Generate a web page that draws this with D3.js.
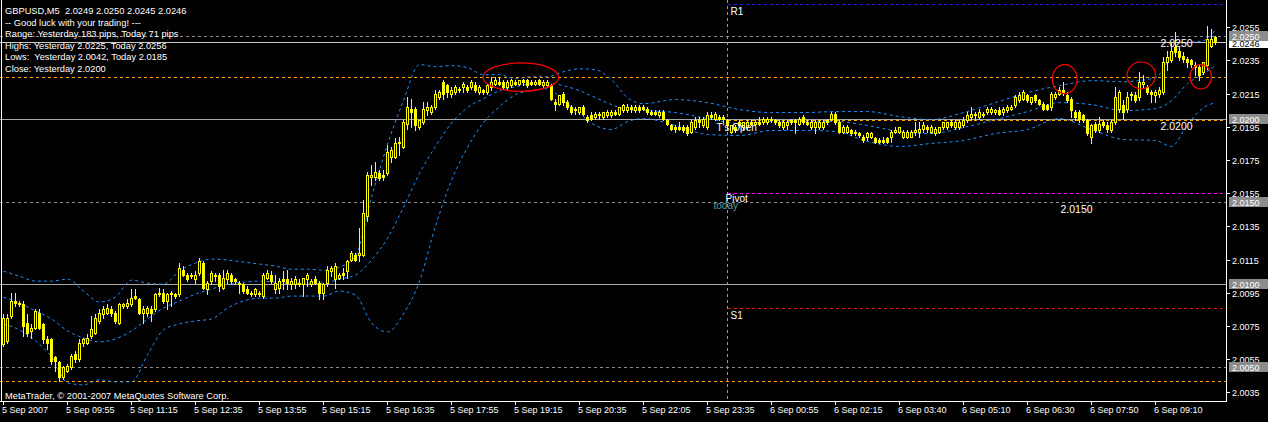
<!DOCTYPE html>
<html><head><meta charset="utf-8">
<script src="https://cdn.jsdelivr.net/npm/d3@7"></script>
<style>html,body{margin:0;padding:0;background:#000;overflow:hidden}</style>
</head><body><svg id="c" width="1268" height="422"></svg>
<script>
// ---------------- data ----------------
const titleLine = "GBPUSD,M5  2.0249 2.0250 2.0245 2.0246";
const infoLines = ["-- Good luck with your trading! ---","Range: Yesterday 183 pips, Today 71 pips","Highs: Yesterday 2.0225, Today 2.0256","Lows:  Yesterday 2.0042, Today 2.0185","Close: Yesterday 2.0200"];
const copyright = "MetaTrader, \u00A9 2001-2007 MetaQuotes Software Corp.";
const timeLabels = ["5 Sep 2007","5 Sep 09:55","5 Sep 11:15","5 Sep 12:35","5 Sep 13:55","5 Sep 15:15","5 Sep 16:35","5 Sep 17:55","5 Sep 19:15","5 Sep 20:35","5 Sep 22:05","5 Sep 23:35","6 Sep 00:55","6 Sep 02:15","6 Sep 03:40","6 Sep 05:10","6 Sep 06:30","6 Sep 07:50","6 Sep 09:10"];
const timeTickBars = [0,16,32,48,64,80,96,112,128,144,160,176,192,208,224,240,256,272,288];
const priceTicks = [2.0255,2.0235,2.0215,2.0195,2.0175,2.0155,2.0135,2.0115,2.0095,2.0075,2.0055,2.0035];

const opens = [
2.0064,2.0066,2.0081,2.0090,2.0089,2.0088,2.0077,2.0072,2.0074,2.0083,
2.0076,2.0067,2.0067,2.0056,2.0053,2.0044,2.0048,2.0050,2.0058,2.0055,
2.0065,2.0065,2.0069,2.0071,2.0078,2.0082,2.0083,2.0085,2.0083,2.0077,
2.0087,2.0087,2.0088,2.0093,2.0091,2.0083,2.0083,2.0085,2.0085,2.0094,
2.0095,2.0090,2.0094,2.0094,2.0094,2.0109,2.0106,2.0105,2.0103,2.0107,
2.0113,2.0097,2.0102,2.0106,2.0106,2.0098,2.0103,2.0106,2.0103,2.0101,
2.0100,2.0097,2.0095,2.0094,2.0095,2.0093,2.0104,2.0106,2.0097,2.0098,
2.0103,2.0103,2.0100,2.0100,2.0101,2.0100,2.0103,2.0100,2.0103,2.0101,
2.0095,2.0101,2.0108,2.0103,2.0104,2.0107,2.0108,2.0115,2.0118,2.0118,
2.0118,2.0141,2.0165,2.0165,2.0167,2.0166,2.0167,2.0177,2.0177,2.0186,
2.0183,2.0197,2.0206,2.0206,2.0195,2.0198,2.0205,2.0204,2.0207,2.0213,
2.0222,2.0220,2.0215,2.0216,2.0217,2.0219,2.0219,2.0219,2.0220,2.0216,
2.0217,2.0216,2.0219,2.0221,2.0222,2.0222,2.0219,2.0220,2.0222,2.0221,
2.0223,2.0223,2.0222,2.0221,2.0223,2.0220,2.0220,2.0220,2.0210,2.0209,
2.0215,2.0210,2.0207,2.0206,2.0204,2.0207,2.0201,2.0202,2.0201,2.0202,
2.0201,2.0202,2.0202,2.0204,2.0203,2.0205,2.0205,2.0207,2.0205,2.0207,
2.0207,2.0206,2.0204,2.0204,2.0202,2.0204,2.0199,2.0196,2.0195,2.0195,
2.0195,2.0195,2.0192,2.0195,2.0199,2.0196,2.0195,2.0202,2.0200,2.0201,
2.0201,2.0199,2.0192,2.0195,2.0198,2.0195,2.0195,2.0198,2.0197,2.0198,
2.0198,2.0198,2.0200,2.0199,2.0198,2.0195,2.0196,2.0199,2.0199,2.0197,
2.0201,2.0198,2.0195,2.0195,2.0195,2.0195,2.0199,2.0200,2.0203,2.0198,
2.0192,2.0192,2.0193,2.0192,2.0191,2.0189,2.0189,2.0189,2.0188,2.0187,
2.0187,2.0188,2.0189,2.0192,2.0192,2.0189,2.0189,2.0189,2.0192,2.0192,
2.0194,2.0195,2.0192,2.0191,2.0192,2.0195,2.0195,2.0198,2.0195,2.0195,
2.0196,2.0199,2.0201,2.0203,2.0201,2.0203,2.0204,2.0204,2.0204,2.0205,
2.0204,2.0205,2.0206,2.0208,2.0211,2.0212,2.0214,2.0210,2.0214,2.0211,
2.0209,2.0208,2.0207,2.0213,2.0215,2.0217,2.0214,2.0212,2.0204,2.0204,
2.0202,2.0199,2.0189,2.0197,2.0193,2.0198,2.0196,2.0193,2.0198,2.0206,
2.0208,2.0206,2.0214,2.0214,2.0213,2.0221,2.0219,2.0216,2.0214,2.0215,
2.0216,2.0234,2.0235,2.0243,2.0241,2.0238,2.0236,2.0235,2.0232,2.0231,
2.0228,2.0232,2.0244,2.0249];
const highs = [
2.0082,2.0082,2.0095,2.0095,2.0090,2.0090,2.0082,2.0076,2.0085,2.0085,
2.0077,2.0069,2.0068,2.0057,2.0054,2.0051,2.0052,2.0058,2.0060,2.0067,
2.0068,2.0070,2.0081,2.0082,2.0085,2.0087,2.0088,2.0087,2.0084,2.0089,
2.0089,2.0091,2.0097,2.0097,2.0092,2.0087,2.0087,2.0087,2.0095,2.0098,
2.0097,2.0095,2.0096,2.0095,2.0113,2.0111,2.0107,2.0107,2.0108,2.0116,
2.0114,2.0102,2.0108,2.0107,2.0107,2.0109,2.0109,2.0107,2.0104,2.0102,
2.0101,2.0099,2.0096,2.0098,2.0096,2.0107,2.0109,2.0108,2.0106,2.0104,
2.0108,2.0109,2.0104,2.0105,2.0103,2.0104,2.0107,2.0103,2.0105,2.0102,
2.0101,2.0111,2.0111,2.0113,2.0107,2.0110,2.0115,2.0120,2.0119,2.0134,
2.0151,2.0168,2.0172,2.0174,2.0169,2.0169,2.0184,2.0183,2.0188,2.0189,
2.0199,2.0213,2.0212,2.0207,2.0199,2.0210,2.0210,2.0208,2.0217,2.0217,
2.0223,2.0221,2.0219,2.0220,2.0219,2.0222,2.0220,2.0223,2.0222,2.0220,
2.0218,2.0221,2.0225,2.0225,2.0225,2.0223,2.0223,2.0224,2.0223,2.0223,
2.0224,2.0224,2.0223,2.0223,2.0224,2.0223,2.0223,2.0221,2.0212,2.0214,
2.0216,2.0211,2.0208,2.0207,2.0207,2.0208,2.0202,2.0204,2.0204,2.0204,
2.0204,2.0205,2.0205,2.0205,2.0207,2.0209,2.0209,2.0208,2.0208,2.0208,
2.0208,2.0207,2.0205,2.0205,2.0205,2.0205,2.0200,2.0197,2.0196,2.0198,
2.0196,2.0196,2.0199,2.0201,2.0201,2.0201,2.0204,2.0204,2.0204,2.0202,
2.0202,2.0200,2.0196,2.0196,2.0199,2.0198,2.0199,2.0199,2.0199,2.0201,
2.0201,2.0201,2.0201,2.0200,2.0199,2.0199,2.0199,2.0200,2.0200,2.0201,
2.0202,2.0199,2.0199,2.0199,2.0199,2.0199,2.0200,2.0204,2.0204,2.0199,
2.0196,2.0196,2.0194,2.0193,2.0192,2.0190,2.0192,2.0192,2.0189,2.0188,
2.0189,2.0189,2.0193,2.0195,2.0195,2.0193,2.0193,2.0193,2.0198,2.0198,
2.0198,2.0196,2.0196,2.0195,2.0195,2.0198,2.0198,2.0199,2.0199,2.0199,
2.0201,2.0204,2.0207,2.0204,2.0206,2.0204,2.0207,2.0207,2.0206,2.0207,
2.0207,2.0208,2.0208,2.0214,2.0216,2.0217,2.0215,2.0213,2.0215,2.0212,
2.0210,2.0209,2.0216,2.0216,2.0219,2.0222,2.0216,2.0213,2.0205,2.0205,
2.0203,2.0200,2.0197,2.0198,2.0201,2.0199,2.0198,2.0199,2.0219,2.0217,
2.0211,2.0216,2.0216,2.0216,2.0228,2.0226,2.0220,2.0217,2.0217,2.0219,
2.0237,2.0241,2.0246,2.0252,2.0243,2.0240,2.0237,2.0236,2.0234,2.0232,
2.0234,2.0256,2.0254,2.0250];
const lows = [
2.0063,2.0065,2.0080,2.0087,2.0087,2.0069,2.0069,2.0068,2.0073,2.0073,
2.0065,2.0061,2.0052,2.0048,2.0042,2.0043,2.0047,2.0049,2.0053,2.0054,
2.0063,2.0064,2.0068,2.0070,2.0077,2.0080,2.0082,2.0081,2.0077,2.0076,
2.0086,2.0086,2.0087,2.0091,2.0082,2.0077,2.0081,2.0078,2.0084,2.0093,
2.0089,2.0085,2.0087,2.0092,2.0093,2.0105,2.0102,2.0104,2.0101,2.0106,
2.0097,2.0094,2.0100,2.0102,2.0096,2.0097,2.0101,2.0101,2.0100,2.0095,
2.0095,2.0094,2.0093,2.0093,2.0093,2.0092,2.0103,2.0101,2.0095,2.0095,
2.0097,2.0097,2.0097,2.0098,2.0099,2.0093,2.0099,2.0099,2.0100,2.0091,
2.0091,2.0099,2.0105,2.0098,2.0103,2.0103,2.0104,2.0114,2.0114,2.0114,
2.0117,2.0138,2.0160,2.0163,2.0163,2.0163,2.0166,2.0174,2.0176,2.0178,
2.0182,2.0194,2.0195,2.0193,2.0194,2.0197,2.0202,2.0203,2.0206,2.0212,
2.0212,2.0213,2.0213,2.0215,2.0216,2.0216,2.0216,2.0218,2.0216,2.0215,
2.0215,2.0215,2.0217,2.0220,2.0220,2.0218,2.0218,2.0219,2.0220,2.0220,
2.0220,2.0219,2.0220,2.0220,2.0220,2.0219,2.0219,2.0211,2.0205,2.0208,
2.0208,2.0206,2.0203,2.0203,2.0203,2.0202,2.0198,2.0199,2.0200,2.0200,
2.0200,2.0201,2.0201,2.0202,2.0202,2.0204,2.0204,2.0204,2.0204,2.0204,
2.0205,2.0203,2.0202,2.0202,2.0201,2.0199,2.0196,2.0193,2.0192,2.0193,
2.0192,2.0190,2.0191,2.0194,2.0195,2.0195,2.0194,2.0200,2.0199,2.0199,
2.0198,2.0194,2.0191,2.0192,2.0195,2.0194,2.0194,2.0196,2.0196,2.0196,
2.0197,2.0197,2.0198,2.0197,2.0195,2.0194,2.0194,2.0197,2.0191,2.0196,
2.0197,2.0196,2.0194,2.0191,2.0194,2.0194,2.0197,2.0199,2.0197,2.0191,
2.0191,2.0191,2.0190,2.0190,2.0189,2.0186,2.0187,2.0188,2.0185,2.0185,
2.0185,2.0185,2.0186,2.0191,2.0191,2.0188,2.0188,2.0189,2.0190,2.0189,
2.0192,2.0192,2.0191,2.0190,2.0191,2.0194,2.0194,2.0195,2.0194,2.0194,
2.0195,2.0198,2.0199,2.0199,2.0200,2.0201,2.0203,2.0203,2.0203,2.0202,
2.0202,2.0204,2.0205,2.0207,2.0210,2.0211,2.0210,2.0209,2.0210,2.0208,
2.0205,2.0205,2.0205,2.0212,2.0214,2.0214,2.0210,2.0201,2.0199,2.0198,
2.0198,2.0190,2.0185,2.0192,2.0192,2.0195,2.0192,2.0192,2.0197,2.0204,
2.0200,2.0204,2.0211,2.0210,2.0211,2.0219,2.0215,2.0210,2.0210,2.0213,
2.0215,2.0229,2.0234,2.0238,2.0235,2.0234,2.0231,2.0231,2.0226,2.0223,
2.0227,2.0230,2.0243,2.0245];
const closes = [
2.0080,2.0080,2.0090,2.0089,2.0088,2.0075,2.0071,2.0074,2.0084,2.0074,
2.0067,2.0065,2.0054,2.0054,2.0044,2.0050,2.0051,2.0057,2.0055,2.0065,
2.0067,2.0068,2.0073,2.0080,2.0083,2.0085,2.0086,2.0083,2.0078,2.0088,
2.0088,2.0089,2.0092,2.0092,2.0083,2.0085,2.0086,2.0083,2.0094,2.0095,
2.0090,2.0094,2.0095,2.0093,2.0110,2.0106,2.0103,2.0106,2.0106,2.0114,
2.0098,2.0101,2.0107,2.0105,2.0099,2.0104,2.0107,2.0102,2.0102,2.0100,
2.0096,2.0095,2.0094,2.0097,2.0094,2.0106,2.0107,2.0102,2.0101,2.0102,
2.0102,2.0101,2.0102,2.0103,2.0100,2.0104,2.0106,2.0102,2.0101,2.0095,
2.0100,2.0109,2.0110,2.0111,2.0106,2.0106,2.0114,2.0119,2.0115,2.0119,
2.0143,2.0166,2.0166,2.0168,2.0164,2.0165,2.0180,2.0181,2.0185,2.0185,
2.0198,2.0207,2.0204,2.0196,2.0199,2.0206,2.0207,2.0207,2.0215,2.0216,
2.0215,2.0216,2.0217,2.0219,2.0218,2.0221,2.0217,2.0222,2.0217,2.0219,
2.0216,2.0220,2.0222,2.0223,2.0221,2.0219,2.0222,2.0223,2.0221,2.0223,
2.0222,2.0220,2.0221,2.0222,2.0221,2.0222,2.0222,2.0212,2.0209,2.0214,
2.0210,2.0207,2.0204,2.0205,2.0207,2.0203,2.0199,2.0200,2.0203,2.0203,
2.0204,2.0204,2.0204,2.0203,2.0207,2.0208,2.0207,2.0206,2.0207,2.0205,
2.0206,2.0204,2.0203,2.0203,2.0204,2.0200,2.0197,2.0194,2.0194,2.0194,
2.0193,2.0191,2.0198,2.0199,2.0198,2.0200,2.0202,2.0201,2.0203,2.0200,
2.0200,2.0196,2.0196,2.0193,2.0196,2.0198,2.0198,2.0197,2.0198,2.0197,
2.0200,2.0200,2.0199,2.0198,2.0196,2.0198,2.0198,2.0198,2.0198,2.0200,
2.0198,2.0197,2.0198,2.0198,2.0198,2.0198,2.0198,2.0203,2.0198,2.0192,
2.0195,2.0195,2.0191,2.0191,2.0190,2.0187,2.0191,2.0191,2.0186,2.0186,
2.0186,2.0186,2.0192,2.0193,2.0195,2.0192,2.0192,2.0192,2.0193,2.0194,
2.0196,2.0194,2.0195,2.0194,2.0195,2.0198,2.0198,2.0196,2.0198,2.0198,
2.0199,2.0202,2.0203,2.0202,2.0204,2.0202,2.0206,2.0206,2.0205,2.0203,
2.0206,2.0207,2.0207,2.0213,2.0214,2.0216,2.0211,2.0213,2.0211,2.0209,
2.0206,2.0206,2.0215,2.0215,2.0217,2.0216,2.0211,2.0205,2.0201,2.0200,
2.0199,2.0191,2.0196,2.0193,2.0197,2.0196,2.0194,2.0198,2.0213,2.0216,
2.0204,2.0213,2.0215,2.0211,2.0222,2.0222,2.0216,2.0215,2.0216,2.0217,
2.0234,2.0237,2.0241,2.0240,2.0237,2.0236,2.0234,2.0233,2.0231,2.0226,
2.0234,2.0248,2.0248,2.0246];

// Bollinger bands, read at sampled bars
const bbBars = [0,4,8,12,16,20,24,28,32,36,40,44,48,52,56,60,64,68,72,76,80,84,88,92,96,100,104,108,112,116,120,124,128,132,136,140,144,148,152,156,160,168,176,184,192,200,208,216,224,232,240,248,256,264,272,280,288,292,296,300,303];
const bbUpper = [2.0108,2.0105,2.0102,2.0102,2.01032,2.0096,2.00894,2.00924,2.01026,2.01008,2.01002,2.0108,2.01129,2.01153,2.01147,2.01135,2.01123,2.01111,2.01092,2.01092,2.01086,2.01105,2.01171,2.01525,2.01844,2.02108,2.02325,2.02313,2.02319,2.02307,2.02264,2.02264,2.0224,2.02252,2.02252,2.02282,2.023,2.02294,2.02234,2.02126,2.0209,2.02114,2.02096,2.02054,2.02036,2.02036,2.02042,2.02042,2.02012,2.01994,2.02036,2.02096,2.02156,2.02198,2.02228,2.02222,2.02246,2.02379,2.02457,2.02469,2.02535];
const bbMiddle = [2.00924,2.00888,2.0084,2.00792,2.0072,2.00678,2.00654,2.00672,2.0072,2.00792,2.00858,2.009,2.00942,2.00972,2.01002,2.01014,2.0102,2.01014,2.01008,2.01008,2.01008,2.01032,2.01056,2.01147,2.01279,2.01465,2.01669,2.01832,2.01973,2.02066,2.0212,2.02168,2.02192,2.0221,2.02216,2.02198,2.02168,2.02126,2.02084,2.02054,2.02048,2.02036,2.02,2.0197,2.01982,2.01982,2.01982,2.01958,2.01922,2.0191,2.01946,2.01994,2.02042,2.02096,2.02084,2.02048,2.0206,2.02108,2.0221,2.0227,2.02319];
const bbLower = [2.00762,2.00726,2.0066,2.00564,2.00407,2.00395,2.00425,2.00413,2.00413,2.00576,2.00726,2.00762,2.0078,2.00792,2.00858,2.009,2.00918,2.00918,2.0093,2.0093,2.0093,2.0096,2.00936,2.00768,2.00714,2.00822,2.0102,2.01351,2.01627,2.01826,2.01976,2.02072,2.02144,2.02168,2.0218,2.02108,2.0203,2.01958,2.01934,2.01982,2.02,2.01958,2.01904,2.01898,2.01928,2.01928,2.01922,2.01862,2.01832,2.0185,2.01868,2.0191,2.01934,2.02,2.01934,2.01874,2.01868,2.01832,2.01964,2.02066,2.02096];

// horizontal levels
const roundLevels = [2.0250, 2.0200, 2.0150, 2.0100, 2.0050];
const roundLevelTexts = ["2.0250", "2.0200", "2.0150"];
const roundTextBars = [289, 289, 264];
const bidPrice = 2.0246;
const yesterdayHigh = 2.0225, yesterdayLow = 2.0042, todayOpen = 2.0199;
const pivotNames = ["R1", "Pivot", "S1"];
const pivotValues = [2.0269, 2.0155, 2.0086];
const dayStartBar = 181;
// red marker ellipses (bar range, price range)
const markFrom = [119.9, 262.2, 280.9, 296.6];
const markTo = [138.8, 268.4, 288.0, 302.0];
const markTop = [2.02335, 2.02325, 2.02341, 2.02325];
const markBottom = [2.02164, 2.02150, 2.02179, 2.02179];

// ---------------- drawing ----------------
const svg = d3.select('#c');
const FONT = "'Liberation Sans', Arial, sans-serif";
svg.append('rect').attr('width', 1268).attr('height', 422).attr('fill', '#000');
const x = d3.scaleLinear().domain([0, 303]).range([3.5, 1215.5]);
const y = d3.scaleLinear().domain([2.0035, 2.0255]).range([392.3, 27.3]);
const PR = 1227, PB = 401;
const ry = v => Math.round(y(v));
const dayX = Math.floor(x(dayStartBar)) + 0.5;

const lines = svg.append('g').attr('shape-rendering', 'crispEdges');
function hline(v, x0, color, dash) {
  lines.append('line').attr('x1', x0).attr('x2', PR - 1).attr('y1', ry(v) + 0.5).attr('y2', ry(v) + 0.5)
    .attr('stroke', color).attr('stroke-width', 1).attr('stroke-dasharray', dash);
}
roundLevels.forEach(v => {
  const solid = Math.round(v * 10000) % 100 === 0;
  hline(v, 0, solid ? '#a8a8a8' : '#8c8c8c', solid ? null : '3,3');
});
hline(bidPrice, 0, '#c8c8c8', null);
hline(yesterdayHigh, 0, '#ffa500', '3,3');
hline(yesterdayLow, 0, '#ffa500', '3,3');
hline(todayOpen, dayX, '#ffa500', '3,3');
const pivotColors = ['#2020d8', '#ff00ff', '#e01818'];
pivotValues.forEach((v, i) => hline(v, dayX, pivotColors[i], '3,3'));
lines.append('line').attr('x1', dayX).attr('x2', dayX).attr('y1', 0).attr('y2', PB)
  .attr('stroke', '#9a9a9a').attr('stroke-dasharray', '3,3');

// bands
const bandG = svg.append('g');
[bbUpper, bbMiddle, bbLower].forEach(arr => {
  const pts = bbBars.map((b, i) => [x(b), y(arr[i])]);
  bandG.append('path').attr('d', d3.line().curve(d3.curveMonotoneX)(pts))
    .attr('fill', 'none').attr('stroke', '#1e90ff').attr('stroke-width', 1).attr('stroke-dasharray', '3,3');
});

// candles
const cg = svg.append('g').attr('shape-rendering', 'crispEdges');
opens.forEach((o, i) => {
  const c = closes[i], X = x(i);
  const yh = ry(highs[i]), yl = ry(lows[i]);
  cg.append('rect').attr('x', X - 0.5).attr('y', yh).attr('width', 1).attr('height', yl - yh + 1).attr('fill', '#ffff00');
  const yo = ry(o), yc = ry(c);
  const top = Math.min(yo, yc), bot = Math.max(yo, yc);
  if (c > o && bot > top) {
    cg.append('rect').attr('x', X - 1).attr('y', top + 0.5).attr('width', 2).attr('height', bot - top)
      .attr('fill', '#000').attr('stroke', '#ffff00').attr('stroke-width', 1);
  } else {
    cg.append('rect').attr('x', X - 1.5).attr('y', top).attr('width', 3).attr('height', bot - top + 1).attr('fill', '#ffff00');
  }
});

// red markers
markFrom.forEach((b, i) => {
  const x0 = x(b), x1 = x(markTo[i]), y0 = y(markTop[i]), y1 = y(markBottom[i]);
  svg.append('ellipse').attr('cx', (x0 + x1) / 2).attr('cy', (y0 + y1) / 2)
    .attr('rx', (x1 - x0) / 2).attr('ry', (y1 - y0) / 2)
    .attr('fill', 'none').attr('stroke', '#ff0000').attr('stroke-width', 1.2);
});

// frame
const fr = svg.append('g').attr('shape-rendering', 'crispEdges').attr('fill', '#ffffff');
fr.append('rect').attr('x', 1).attr('y', 0).attr('width', 1).attr('height', PB);
fr.append('rect').attr('x', PR - 1).attr('y', 0).attr('width', 1).attr('height', PB + 1);
fr.append('rect').attr('x', 0).attr('y', PB).attr('width', PR).attr('height', 1);

// right axis
priceTicks.forEach(t => {
  fr.append('rect').attr('x', PR).attr('y', ry(t)).attr('width', 3).attr('height', 1);
  svg.append('text').attr('x', 1232).attr('y', ry(t) + 4).attr('fill', '#fff')
    .attr('font-family', FONT).attr('font-size', 9).text(t.toFixed(4));
});
// bid label first (partly hidden under the 2.0250 label, as in the original)
svg.append('rect').attr('x', 1229).attr('y', ry(bidPrice) - 4).attr('width', 39).attr('height', 10).attr('fill', '#ffffff');
svg.append('text').attr('x', 1232).attr('y', ry(bidPrice) + 5).attr('fill', '#000')
  .attr('font-family', FONT).attr('font-size', 9).text(bidPrice.toFixed(4));
// level boxes
roundLevels.forEach(v => {
  svg.append('rect').attr('x', 1229).attr('y', ry(v) - 5).attr('width', 39).attr('height', 10).attr('fill', '#8c8c8c');
  svg.append('text').attr('x', 1232).attr('y', ry(v) + 4).attr('fill', '#ffffff')
    .attr('font-family', FONT).attr('font-size', 9).text(v.toFixed(4));
});

// bottom axis
timeTickBars.forEach((b, i) => {
  const cx = Math.floor(x(b));
  fr.append('rect').attr('x', cx).attr('y', PB + 1).attr('width', 1).attr('height', 3);
  svg.append('text').attr('x', cx - 1).attr('y', 413).attr('fill', '#fff')
    .attr('font-family', FONT).attr('font-size', 9).text(timeLabels[i]);
});

// texts
const txt = (s, tx, ty, size, color) => svg.append('text').attr('x', tx).attr('y', ty)
  .attr('fill', color || '#fff').attr('font-family', FONT).attr('font-size', size)
  .style('white-space', 'pre').text(s);
txt(titleLine, 5, 14, 9.3);
infoLines.forEach((s, i) => txt(s, 5, 25.5 + i * 11.5, 9.3));
txt(copyright, 5, 398.5, 9.3);
roundLevelTexts.forEach((s, i) => txt(s, x(roundTextBars[i]) + 1, ry(+s) + 11, 10.5));
txt(pivotNames[0], dayX + 3, ry(pivotValues[0]) + 11, 10);
txt(pivotNames[1], dayX - 2, ry(pivotValues[1]) + 9, 10);
txt("today", dayX - 14, ry(2.0150) + 7, 10, '#5f9ea0');
txt(pivotNames[2], dayX + 3, ry(pivotValues[2]) + 11, 10);
txt("T's Open", dayX - 11, ry(todayOpen) + 11, 10);
</script></body></html>
